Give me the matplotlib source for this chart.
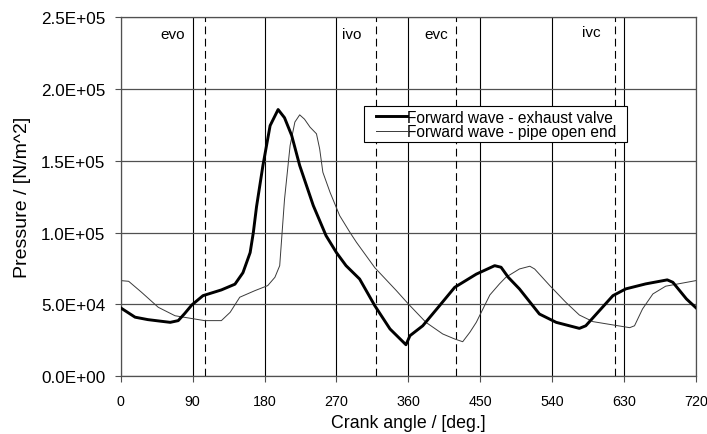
import numpy as np
import matplotlib
matplotlib.use("Agg")
import matplotlib.pyplot as plt
from matplotlib.patches import Rectangle

plt.rcParams['font.family'] = ['Liberation Sans', 'DejaVu Sans']

# forward wave at exhaust valve (crank angle deg, pressure N/m^2)
valve_deg = [0, 18, 34, 50, 62, 72, 80, 89, 103, 126, 143, 153, 162, 166, 170, 178, 187,
             197, 205, 214, 224, 241, 257, 270, 282, 299, 318, 337, 357, 362, 378, 399,
             418, 445, 468, 476, 485, 499, 524, 545, 574, 582, 599, 616, 632, 657, 684,
             691, 708, 720]
valve_p = [47.5e3, 41.0e3, 39.3e3, 38.2e3, 37.4e3, 38.6e3, 43.5e3, 49.5e3, 56.0e3, 60.0e3,
           64.0e3, 72.0e3, 86.0e3, 100e3, 118e3, 146.7e3, 174.5e3, 185.7e3, 180e3, 167.6e3,
           146.7e3, 118.8e3, 97.8e3, 86.0e3, 76.9e3, 67.6e3, 49.0e3, 32.8e3, 21.8e3, 28.1e3,
           35.0e3, 49.0e3, 61.8e3, 71.0e3, 76.9e3, 75.8e3, 68.8e3, 60.7e3, 43.2e3, 37.4e3,
           33.2e3, 35.0e3, 45.5e3, 56.0e3, 60.7e3, 64.2e3, 67.0e3, 65.3e3, 53.7e3, 47.5e3]

# forward wave at pipe open end
pipe_deg = [0, 10, 26, 47, 68, 93, 105, 126, 137, 149, 168, 184, 193, 199, 205, 212, 218,
            224, 230, 237, 245, 249, 253, 262, 274, 287, 295, 318, 345, 360, 382, 403, 418,
            428, 437, 445, 462, 474, 482, 499, 512, 518, 537, 557, 574, 591, 616, 637, 643,
            653, 666, 682, 720]
pipe_p = [66.5e3, 66.0e3, 58.4e3, 47.9e3, 42.0e3, 39.7e3, 38.6e3, 38.6e3, 44.4e3, 54.9e3,
          59.5e3, 63.0e3, 68.8e3, 76.9e3, 123e3, 160.6e3, 177e3, 182e3, 179e3, 173.4e3,
          168.8e3, 158.3e3, 142e3, 128e3, 111.8e3, 100e3, 93.2e3, 75.5e3, 59.5e3, 50.2e3,
          37.4e3, 29.3e3, 25.8e3, 23.9e3, 30.5e3, 37.4e3, 56.5e3, 64.2e3, 68.8e3, 74.6e3,
          76.5e3, 74.6e3, 63.0e3, 51.4e3, 42.5e3, 37.9e3, 35.6e3, 33.7e3, 35.0e3, 46.7e3,
          57.2e3, 62.6e3, 66.5e3]

# valve timing events
event_names = ['evo', 'ivo', 'evc', 'ivc']
event_deg = [105, 320, 420, 618]
label_deg = [65, 289, 395, 589]
label_p = [2.385e5, 2.385e5, 2.385e5, 2.40e5]

x_ticks = [0, 90, 180, 270, 360, 450, 540, 630, 720]
y_ticks = [0, 5e4, 1e5, 1.5e5, 2e5, 2.5e5]

fig = plt.figure(figsize=(7.07, 4.35), dpi=100)
ax = fig.add_axes([0.1707, 0.1333, 0.8138, 0.8247])

for x in x_ticks:
    ax.axvline(x, color='black', lw=0.8, zorder=1)
for y in y_ticks:
    ax.axhline(y, color='#505050', lw=0.9, zorder=1)
for x in event_deg:
    ax.axvline(x, color='black', lw=0.8, dashes=(7, 4), zorder=1)

ax.plot(valve_deg, valve_p, color='black', lw=2.1, label='Forward wave - exhaust valve', zorder=3)
ax.plot(pipe_deg, pipe_p, color='#3a3a3a', lw=0.7, label='Forward wave - pipe open end', zorder=2)

for name, xd, yp in zip(event_names, label_deg, label_p):
    ax.text(xd, yp, name, ha='center', va='center', fontsize=11)

ax.set_xlim(0, 720)
ax.set_ylim(0, 2.5e5)
ax.set_xticks(x_ticks)
ax.set_yticks(y_ticks)
ax.set_yticklabels(['%.1E' % v for v in y_ticks])
ax.tick_params(axis='both', color='#505050', length=4, width=0.8)
ax.tick_params(axis='y', labelsize=12.3, pad=7)
ax.tick_params(axis='x', labelsize=10.3, pad=9)
for s in ax.spines.values():
    s.set_color('#505050')
    s.set_linewidth(0.9)

ax.set_xlabel('Crank angle / [deg.]', fontsize=12.8, labelpad=4)
ax.set_ylabel('Pressure / [N/m^2]', fontsize=14, labelpad=7)

# legend box (Excel style, square frame with wider side margins)
ax.add_patch(Rectangle((0.423, 0.652), 0.457, 0.101, transform=ax.transAxes,
                       facecolor='white', edgecolor='black', lw=0.8, zorder=4))
leg = ax.legend(loc='upper left', bbox_to_anchor=(0.443, 0.742), fontsize=11.2,
                frameon=False, borderpad=0.0, handlelength=2.0, handletextpad=0.0,
                labelspacing=-0.05, borderaxespad=0)
leg.set_zorder(5)

fig.savefig('out.png', dpi=100)
